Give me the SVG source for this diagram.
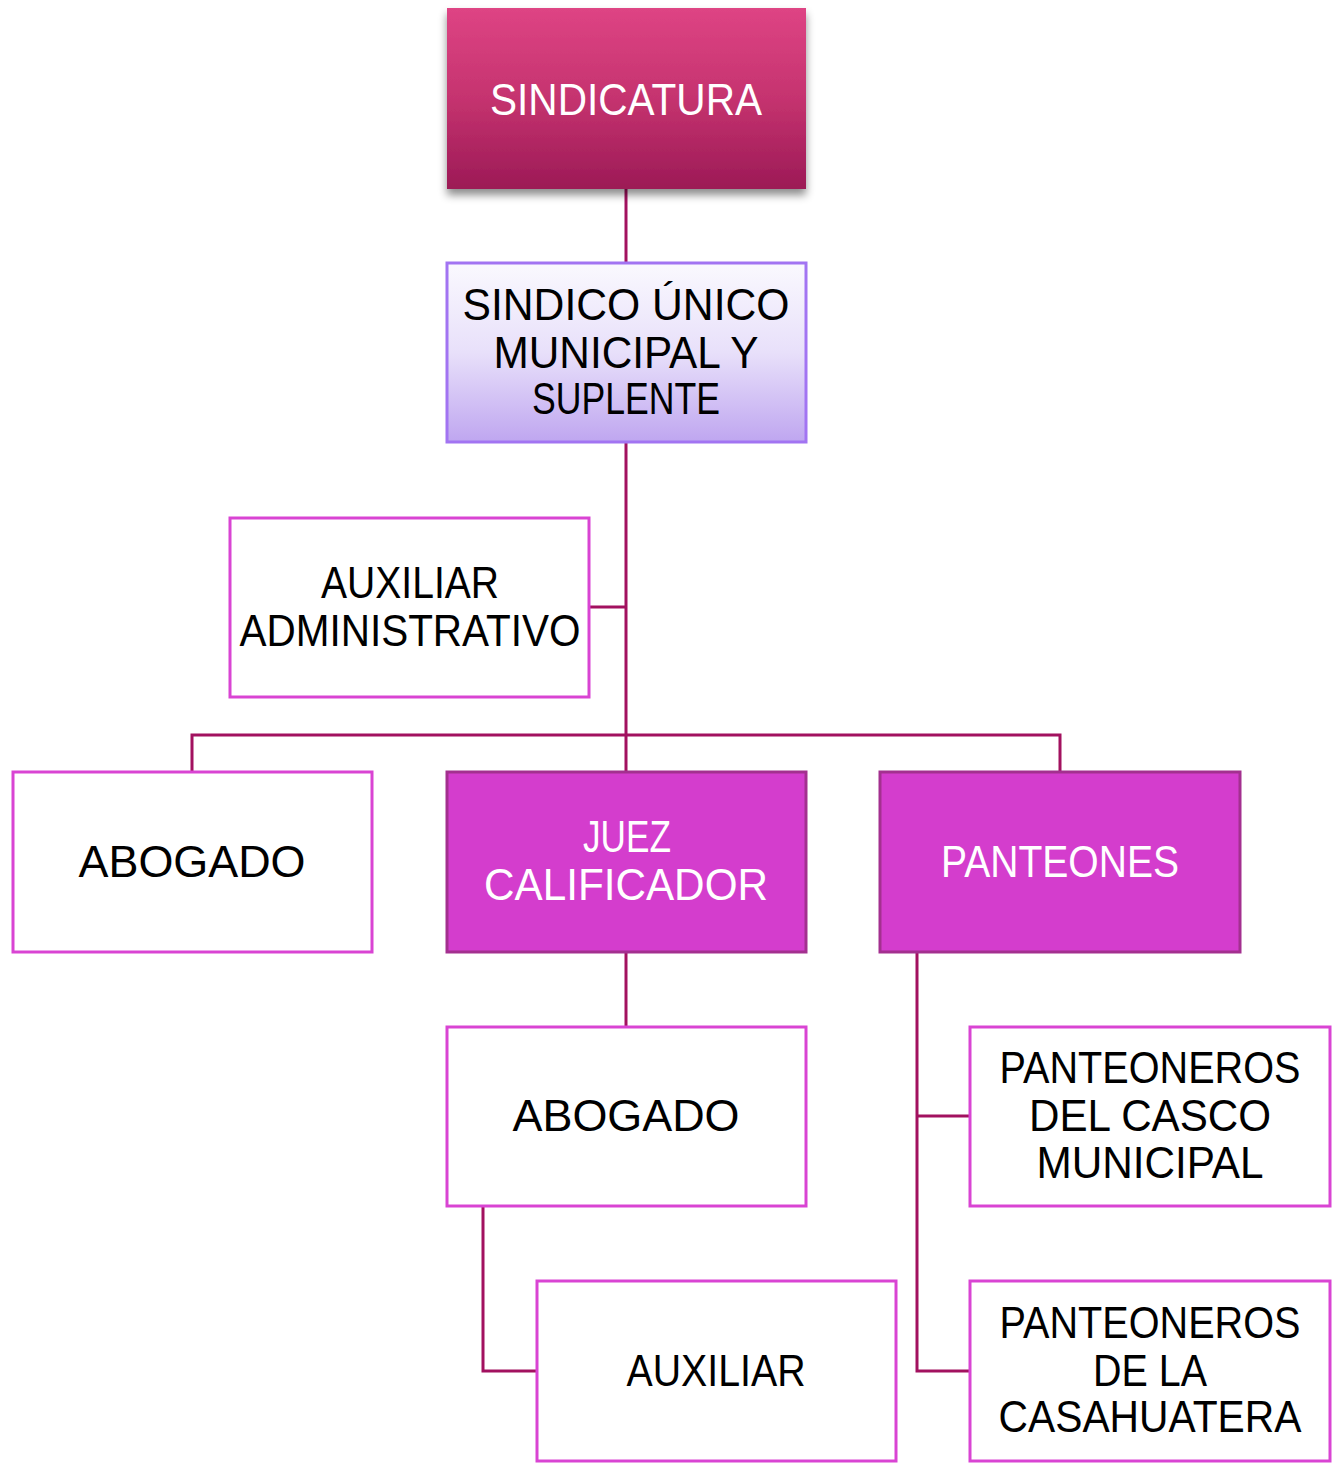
<svg xmlns="http://www.w3.org/2000/svg" width="1332" height="1463" viewBox="0 0 1332 1463">
<defs>
<linearGradient id="gTop" x1="0" y1="0" x2="0" y2="1">
<stop offset="0" stop-color="#de4484"/><stop offset="0.5" stop-color="#c5336f"/><stop offset="1" stop-color="#9c1a56"/>
</linearGradient>
<linearGradient id="gSin" x1="0" y1="0" x2="0" y2="1">
<stop offset="0" stop-color="#faf9fe"/><stop offset="0.5" stop-color="#e8e0fa"/><stop offset="1" stop-color="#bfa6f0"/>
</linearGradient>
<filter id="sh" x="-10%" y="-10%" width="130%" height="140%">
<feDropShadow dx="0" dy="6" stdDeviation="4" flood-color="#000" flood-opacity="0.45"/>
</filter>
</defs>
<style>
text{font-family:"Liberation Sans",Arial,sans-serif;font-size:44px;text-anchor:middle}
.dark{fill:#000}
.light{fill:#fff}
.w{fill:#fff;stroke:#d944d3;stroke-width:3}
.m{fill:#d43dcd;stroke:#a3308f;stroke-width:3}
.c{fill:none;stroke:#a2115f;stroke-width:3}
</style>
<g id="connectors">
<line class="c" x1="626" y1="189" x2="626" y2="263"/>
<line class="c" x1="626" y1="442" x2="626" y2="772"/>
<line class="c" x1="589" y1="607" x2="626" y2="607"/>
<polyline class="c" points="192,772 192,735 1060,735 1060,772"/>
<line class="c" x1="626" y1="952" x2="626" y2="1027"/>
<polyline class="c" points="483,1206 483,1371 537,1371"/>
<polyline class="c" points="917,952 917,1371 970,1371"/>
<line class="c" x1="917" y1="1116" x2="970" y2="1116"/>
</g>
<g id="sindicatura">
<rect x="447" y="8" width="359" height="181" fill="url(#gTop)" filter="url(#sh)"/>
<text class="light" x="626" y="115" textLength="272" lengthAdjust="spacingAndGlyphs">SINDICATURA</text>
</g>
<g id="sindico">
<rect x="447" y="263" width="359" height="179" fill="url(#gSin)" stroke="#a274f2" stroke-width="3"/>
<text class="dark" x="626" y="320" textLength="327" lengthAdjust="spacingAndGlyphs">SINDICO ÚNICO</text>
<text class="dark" x="626" y="368" textLength="265" lengthAdjust="spacingAndGlyphs">MUNICIPAL Y</text>
<text class="dark" x="626" y="414" textLength="188" lengthAdjust="spacingAndGlyphs">SUPLENTE</text>
</g>
<g id="auxiliar-administrativo">
<rect class="w" x="230" y="518" width="359" height="179"/>
<text class="dark" x="410" y="598" textLength="178" lengthAdjust="spacingAndGlyphs">AUXILIAR</text>
<text class="dark" x="410" y="646" textLength="341" lengthAdjust="spacingAndGlyphs">ADMINISTRATIVO</text>
</g>
<g id="abogado-1">
<rect class="w" x="13" y="772" width="359" height="180"/>
<text class="dark" x="192" y="877" textLength="227" lengthAdjust="spacingAndGlyphs">ABOGADO</text>
</g>
<g id="juez-calificador">
<rect class="m" x="447" y="772" width="359" height="180"/>
<text class="light" x="627" y="852" textLength="88" lengthAdjust="spacingAndGlyphs">JUEZ</text>
<text class="light" x="626" y="900" textLength="284" lengthAdjust="spacingAndGlyphs">CALIFICADOR</text>
</g>
<g id="panteones">
<rect class="m" x="880" y="772" width="360" height="180"/>
<text class="light" x="1060" y="877" textLength="238" lengthAdjust="spacingAndGlyphs">PANTEONES</text>
</g>
<g id="abogado-2">
<rect class="w" x="447" y="1027" width="359" height="179"/>
<text class="dark" x="626" y="1131" textLength="227" lengthAdjust="spacingAndGlyphs">ABOGADO</text>
</g>
<g id="auxiliar">
<rect class="w" x="537" y="1281" width="359" height="180"/>
<text class="dark" x="716" y="1386" textLength="179" lengthAdjust="spacingAndGlyphs">AUXILIAR</text>
</g>
<g id="panteoneros-casco">
<rect class="w" x="970" y="1027" width="360" height="179"/>
<text class="dark" x="1150" y="1083" textLength="301" lengthAdjust="spacingAndGlyphs">PANTEONEROS</text>
<text class="dark" x="1150" y="1131" textLength="242" lengthAdjust="spacingAndGlyphs">DEL CASCO</text>
<text class="dark" x="1150" y="1178" textLength="227" lengthAdjust="spacingAndGlyphs">MUNICIPAL</text>
</g>
<g id="panteoneros-casahuatera">
<rect class="w" x="970" y="1281" width="360" height="180"/>
<text class="dark" x="1150" y="1338" textLength="301" lengthAdjust="spacingAndGlyphs">PANTEONEROS</text>
<text class="dark" x="1150" y="1386" textLength="114" lengthAdjust="spacingAndGlyphs">DE LA</text>
<text class="dark" x="1150" y="1432" textLength="303" lengthAdjust="spacingAndGlyphs">CASAHUATERA</text>
</g>
</svg>
